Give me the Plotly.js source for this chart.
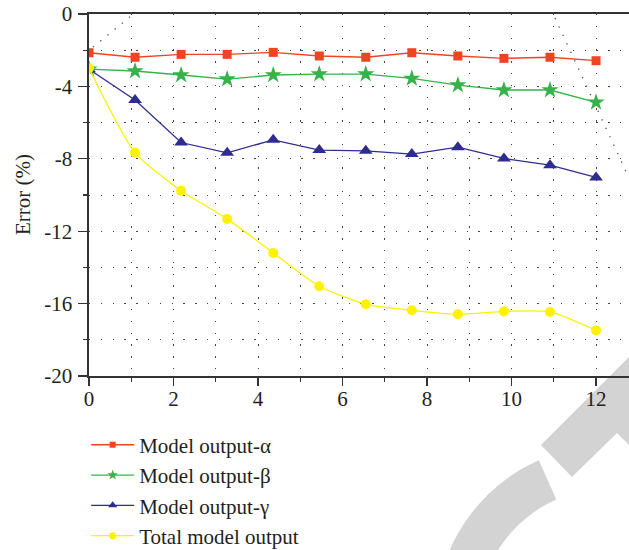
<!DOCTYPE html>
<html>
<head>
<meta charset="utf-8">
<script src="https://cdn.plot.ly/plotly-3.0.1.min.js"></script>
<style>
  html, body { margin: 0; padding: 0; background: #fff; }
  #chart { width: 629px; height: 550px; }
</style>
</head>
<body>
<div id="chart"></div>
<script>
// Sampling positions along the horizontal axis
const xValues = [0, 1.09, 2.18, 3.27, 4.36, 5.45, 6.55, 7.64, 8.73, 9.82, 10.91, 12];

// Error (%) of each model output
const alphaError = [-2.14, -2.39, -2.23, -2.23, -2.12, -2.32, -2.39, -2.14, -2.32, -2.45, -2.39, -2.58];
const betaError  = [-3.05, -3.15, -3.37, -3.6, -3.37, -3.32, -3.32, -3.56, -3.93, -4.2, -4.2, -4.88];
const gammaError = [-3.05, -4.75, -7.1, -7.67, -6.95, -7.52, -7.56, -7.74, -7.36, -7.98, -8.35, -9.03];
const totalError = [-3.0, -7.67, -9.77, -11.32, -13.2, -15.04, -16.04, -16.37, -16.59, -16.43, -16.46, -17.48];

// Series names
const seriesNames = ['Model output-\u03b1', 'Model output-\u03b2', 'Model output-\u03b3', 'Total model output'];
const yAxisTitle = 'Error (%)';

// Tick labels
const xTickVals = [0, 2, 4, 6, 8, 10, 12];
const xTickText = ['0', '2', '4', '6', '8', '10', '12'];
const yTickVals = [0, -4, -8, -12, -16, -20];
const yTickText = ['0', '-4', '-8', '-12', '-16', '-20'];

const FONT = 'Liberation Serif, Times New Roman, serif';
const TEXT = '#231f20';

const styles = [
  { color: '#ef4423', symbol: 'square', size: 9, legendSize: 6 },
  { color: '#35b34a', symbol: 'star', size: 13, legendSize: 8 },
  { color: '#2e2d8f', symbol: 'triangle-up', size: 12, legendSize: 8 },
  { color: '#fff200', symbol: 'circle', size: 10, legendSize: 7, shape: 'spline' }
];
const seriesValues = [alphaError, betaError, gammaError, totalError];

const traces = [];
// Data lines with their markers
seriesValues.forEach((y, i) => {
  const s = styles[i];
  traces.push({
    x: xValues, y: y, name: seriesNames[i], type: 'scatter', mode: 'lines+markers',
    showlegend: false,
    line: { color: s.color, width: 1.3, shape: s.shape || 'linear', smoothing: 0.6 },
    marker: { color: s.color, symbol: s.symbol, size: s.size, line: { width: 0 } }
  });
});
// Legend keys drawn with smaller symbols
seriesValues.forEach((y, i) => {
  const s = styles[i];
  traces.push({
    x: [null], y: [null], name: seriesNames[i], type: 'scatter', mode: 'lines+markers',
    showlegend: true, hoverinfo: 'skip',
    line: { color: s.color, width: 1.3 },
    marker: { color: s.color, symbol: s.symbol, size: s.legendSize, line: { width: 0 } }
  });
});

// Plot area geometry (pixels) used to place the background decorations
const L = 89, T = 14, W = 540, H = 362;
function P(px, py) { return [((px - L) / W).toFixed(4), ((T + H - py) / H).toFixed(4)]; }
function pathFrom(points) {
  return points.map((p, i) => (i ? 'L' : 'M') + P(p[0], p[1]).join(',')).join(' ') + ' Z';
}

// Grey logo band in the lower right corner
const arrowBand = pathFrom([[645, 341], [541, 445], [572, 477], [617, 433], [645, 461]]);
const arcPts = [];
const cx = 610, cy = 620, rOut = 175, rIn = 132;
for (let a = -114; a >= -170; a -= 4) {
  const t = a * Math.PI / 180;
  arcPts.push([cx + rOut * Math.cos(t), cy + rOut * Math.sin(t)]);
}
for (let a = -170; a <= -114; a += 4) {
  const t = a * Math.PI / 180;
  arcPts.push([cx + rIn * Math.cos(t), cy + rIn * Math.sin(t)]);
}
const arcBand = pathFrom(arcPts);

const dotLine = (a, b) => {
  const p = P(a[0], a[1]), q = P(b[0], b[1]);
  return { type: 'line', xref: 'paper', yref: 'paper', x0: p[0], y0: p[1], x1: q[0], y1: q[1],
           line: { color: '#555', width: 1.3, dash: '1.3px,8px' }, layer: 'below' };
};

const gridDash = '1.3px,10.5px';

const layout = {
  width: 629, height: 550,
  margin: { l: L, r: 0, t: T, b: 550 - T - H, autoexpand: false },
  paper_bgcolor: '#fff',
  plot_bgcolor: 'rgba(0,0,0,0)',
  font: { family: FONT, size: 21, color: TEXT },
  showlegend: true,
  legend: {
    xref: 'container', yref: 'container',
    x: 0.137, y: 0.228, xanchor: 'left', yanchor: 'top',
    bgcolor: 'rgba(0,0,0,0)', borderwidth: 0,
    font: { family: FONT, size: 21, color: TEXT },
    itemwidth: 43, tracegroupgap: 0
  },
  xaxis: {
    range: [0, 12.78], automargin: false,
    tickmode: 'array', tickvals: xTickVals, ticktext: xTickText,
    ticks: 'outside', ticklen: 8, tickwidth: 1.3, tickcolor: '#333',
    ticklabelstandoff: -5,
    showline: true, linecolor: '#333', linewidth: 1.6, mirror: true,
    showgrid: true, gridcolor: '#444', gridwidth: 1, griddash: gridDash,
    minor: { dtick: 1, tick0: 0, ticks: 'outside', ticklen: 4, tickwidth: 1.2, tickcolor: '#333',
             showgrid: true, gridcolor: '#444', gridwidth: 1, griddash: gridDash },
    zeroline: false,
    tickfont: { family: FONT, size: 21, color: TEXT }
  },
  yaxis: {
    range: [-20, 0], automargin: false,
    tickmode: 'array', tickvals: yTickVals, ticktext: yTickText,
    ticks: 'outside', ticklen: 9, tickwidth: 1.3, tickcolor: '#333',
    ticklabelstandoff: 2,
    showline: true, linecolor: '#333', linewidth: 1.6,
    showgrid: true, gridcolor: '#444', gridwidth: 1, griddash: gridDash,
    minor: { dtick: 2, tick0: 0, ticks: 'outside', ticklen: 4, tickwidth: 1.2, tickcolor: '#333',
             showgrid: true, gridcolor: '#444', gridwidth: 1, griddash: gridDash },
    zeroline: false,
    tickfont: { family: FONT, size: 21, color: TEXT }
  },
  annotations: [{
    text: yAxisTitle, xref: 'paper', yref: 'paper',
    x: P(23, 0)[0], y: 0.5, xanchor: 'center', yanchor: 'middle',
    textangle: -90, showarrow: false,
    font: { family: FONT, size: 21, color: TEXT }
  }],
  shapes: [
    { type: 'path', xref: 'paper', yref: 'paper', path: arrowBand, fillcolor: '#d3d3d3', line: { width: 0 }, layer: 'below' },
    { type: 'path', xref: 'paper', yref: 'paper', path: arcBand, fillcolor: '#d3d3d3', line: { width: 0 }, layer: 'below' },
    dotLine([93, 47], [131, 16]),
    dotLine([555, 18], [629, 178])
  ]
};

Plotly.newPlot('chart', traces, layout, { displayModeBar: false, staticPlot: true });
</script>
</body>
</html>
